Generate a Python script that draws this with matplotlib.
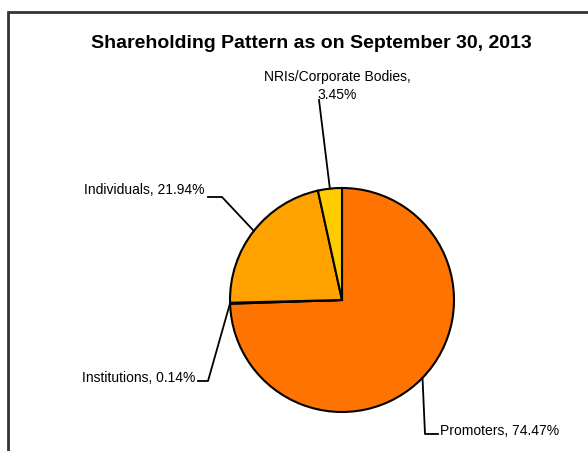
import numpy as np
import matplotlib
matplotlib.use("Agg")
import matplotlib.pyplot as plt

W, H = 588, 451

categories = ["Promoters", "Institutions", "Individuals", "NRIs/Corporate Bodies"]
shares = [74.47, 0.14, 21.94, 3.45]
colors = ["#FF7300", "#FF8C00", "#FFA200", "#FFCC00"]
title = "Shareholding Pattern as on September 30, 2013"

CENTER = (342, 300)
RADIUS = 112


def py(y):
    # pixel row (from top) -> data y
    return H - y


fig = plt.figure(figsize=(W / 100, H / 100), dpi=100)
ax = fig.add_axes([0, 0, 1, 1])

# outer frame (only left and top edges fall inside the image)
ax.plot([8, 8, W + 5], [py(H + 5), py(12), py(12)], color="#333333", lw=2, solid_joinstyle="miter")

ax.text(311, py(43), title, ha="center", va="center", fontsize=14,
        fontweight="bold", family=["Liberation Sans", "DejaVu Sans"])

wedges, _ = ax.pie(shares, colors=colors, startangle=90, counterclock=False,
                   center=(CENTER[0], py(CENTER[1])), radius=RADIUS, frame=True,
                   wedgeprops=dict(edgecolor="black", linewidth=1.5))
ax.set_xlim(0, W)
ax.set_ylim(0, H)
ax.set_aspect("equal")
ax.axis("off")

# label placement: (elbow points in pixel coords, text pos, alignment)
label_layout = {
    "Promoters": ([(425, 434), (438, 434)], (440, 431), "left"),
    "Institutions": ([(208, 381), (198, 381)], (195, 378), "right"),
    "Individuals": ([(222, 197), (208, 197)], (204, 190), "right"),
    "NRIs/Corporate Bodies": ([(319, 100)], (337, 86), "center"),
}

for w, name, val in zip(wedges, categories, shares):
    mid = np.deg2rad((w.theta1 + w.theta2) / 2)
    x0 = CENTER[0] + RADIUS * np.cos(mid)
    y0 = py(CENTER[1]) + RADIUS * np.sin(mid)
    pts, (tx, ty), ha = label_layout[name]
    xs = [x0] + [p[0] for p in pts]
    ys = [y0] + [py(p[1]) for p in pts]
    ax.plot(xs, ys, color="black", lw=1.3)
    if name == "NRIs/Corporate Bodies":
        txt = f"{name},\n{val:.2f}%"
    else:
        txt = f"{name}, {val:.2f}%"
    ax.text(tx, py(ty), txt, ha=ha, va="center", fontsize=10, linespacing=1.4,
            family=["Liberation Sans", "DejaVu Sans"])

fig.savefig("out.png", dpi=100)
